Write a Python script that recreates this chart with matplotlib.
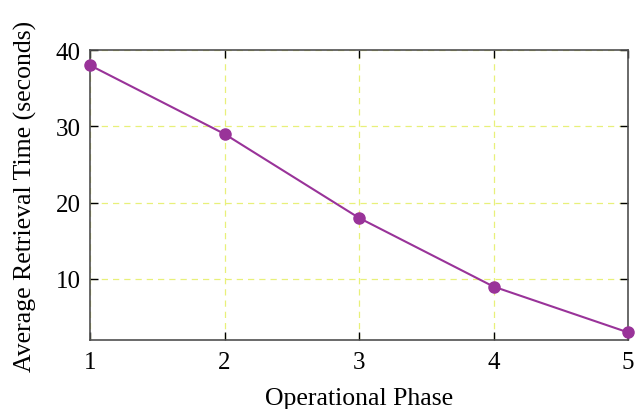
import matplotlib
matplotlib.use("Agg")
import matplotlib.pyplot as plt

phases = [1, 2, 3, 4, 5]
retrieval_time = [38, 29, 18, 9, 3]
y_ticks = [10, 20, 30, 40]

plt.rcParams['font.family'] = ['Liberation Serif', 'DejaVu Serif']
plt.rcParams['mathtext.fontset'] = 'stix'

fig = plt.figure(figsize=(6.36, 4.10), dpi=100)
ax = fig.add_axes([90 / 636, 69 / 410, 538 / 636, 290 / 410])

ax.plot(phases, retrieval_time, color='#993399', linewidth=1.5,
        marker='o', markersize=8, clip_on=False, zorder=3)

ax.set_xlim(1, 5)
ax.set_ylim(2, 40)
ax.set_xticks(phases)
ax.set_yticks(y_ticks)
ax.grid(True, color='#e8f07a', linestyle=(0, (5, 4)), linewidth=0.9)

for s in ax.spines.values():
    s.set_color('#505050')
    s.set_linewidth(1.2)
ax.tick_params(direction='in', length=6, width=1, color='black',
               top=True, right=True, labelsize=18)
ax.tick_params(axis='x', pad=8)
ax.tick_params(axis='y', pad=6.5)

ax.set_xlabel('Operational Phase', fontsize=18.5, labelpad=10)
ax.set_ylabel('Average Retrieval Time (seconds)', fontsize=18.5, labelpad=14)

fig.savefig('out.png', dpi=100)
